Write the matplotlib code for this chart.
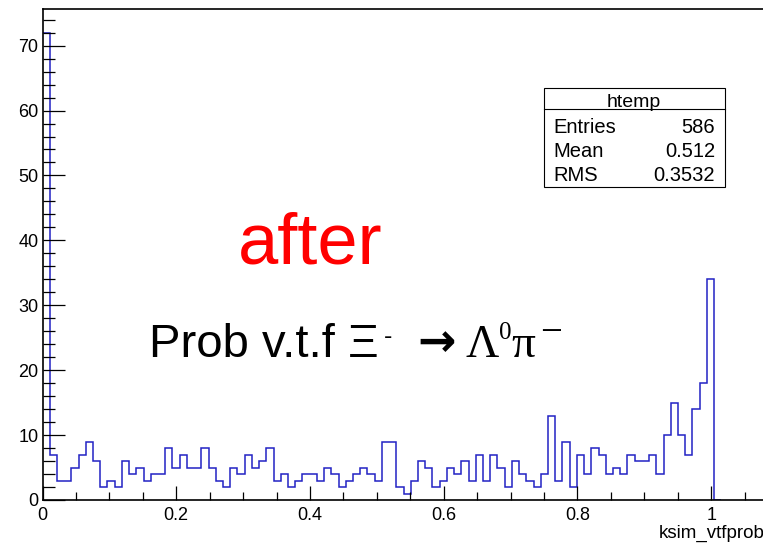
import numpy as np
import matplotlib
matplotlib.use('Agg')
import matplotlib.pyplot as plt
from matplotlib.ticker import MultipleLocator
from matplotlib.patches import Rectangle
from matplotlib.lines import Line2D

plt.rcParams['font.family'] = ['Liberation Sans', 'DejaVu Sans']

W, H = 763, 543

# htemp: 100 bins over [0, 1.08]; bins above 1.0 are empty
n_bins = 100
x_lo, x_hi = 0.0, 1.08
bin_counts = [72, 7, 3, 3, 5, 7, 9, 6, 2, 3,
              2, 6, 4, 5, 3, 4, 4, 8, 5, 7,
              5, 5, 8, 5, 3, 2, 5, 4, 7, 5,
              6, 8, 3, 4, 2, 3, 4, 4, 3, 5,
              4, 2, 3, 4, 5, 4, 3, 9, 9, 2,
              1, 3, 6, 5, 2, 3, 5, 4, 6, 3,
              7, 3, 7, 5, 2, 6, 4, 3, 2, 4,
              13, 3, 9, 2, 7, 4, 8, 7, 4, 5,
              4, 7, 6, 6, 7, 4, 10, 15, 10, 7,
              14, 18, 34]
bin_counts = bin_counts + [0] * (n_bins - len(bin_counts))

x_ticks = [0, 0.2, 0.4, 0.6, 0.8, 1.0]
x_ticklabels = ['0', '0.2', '0.4', '0.6', '0.8', '1']
y_ticks = [0, 10, 20, 30, 40, 50, 60, 70]
y_ticklabels = ['0', '10', '20', '30', '40', '50', '60', '70']

stats_title = 'htemp'
stats_names = ['Entries', 'Mean', 'RMS']
stats_values = ['586', '0.512', '0.3532']


def fx(px):
    return px / W


def fy(py):
    return 1 - py / H


fig = plt.figure(figsize=(W / 100, H / 100), dpi=100)
fig.patch.set_facecolor('white')

ax = fig.add_axes([fx(42.5), fy(500), (764.7 - 42.5) / W, (500 - 9.3) / H])
edges = np.linspace(x_lo, x_hi, n_bins + 1)
counts = np.array(bin_counts)
# outline over the filled range plus one empty bin, so the last edge drops to zero;
# no baseline, so nothing is drawn along the y axis at x=0
n_used = np.nonzero(counts)[0].max() + 2
ax.stairs(counts[:n_used], edges[:n_used + 1], baseline=None,
          color='#2222c4', lw=1.1, zorder=1)
ax.set_xlim(x_lo, x_hi)
ax.set_ylim(0, counts.max() * 1.05)

for s in ax.spines.values():
    s.set_linewidth(1.2)
    s.set_color('black')

ax.set_xticks(x_ticks)
ax.set_xticklabels(x_ticklabels)
ax.set_yticks(y_ticks)
ax.set_yticklabels(y_ticklabels)
ax.xaxis.set_minor_locator(MultipleLocator(0.05))
ax.yaxis.set_minor_locator(MultipleLocator(2))
ax.tick_params(which='both', direction='in', top=False, right=False, width=0.9, colors='black')
ax.tick_params(axis='x', which='major', length=10.3, labelsize=13, pad=5)
ax.tick_params(axis='x', which='minor', length=5.5)
ax.tick_params(axis='y', which='major', length=15.8, labelsize=13, pad=3)
ax.tick_params(axis='y', which='minor', length=8.6)

# axis title at the end of the x axis
fig.text(fx(764.7), fy(538), 'ksim_vtfprob', fontsize=13.5, ha='right', va='baseline')

# stats box
fig.patches.append(Rectangle((fx(544), fy(186.7)), (725 - 544) / W, (186.7 - 88.3) / H,
                             transform=fig.transFigure, facecolor='white',
                             edgecolor='black', lw=0.8, zorder=1))
fig.lines.append(Line2D([fx(544), fx(725)], [fy(109.3), fy(109.3)],
                        transform=fig.transFigure, color='black', lw=0.8, zorder=2))
fig.text(fx(633.3), fy(106.7), stats_title, fontsize=14, ha='center', va='baseline', zorder=3)
for i, (name, val) in enumerate(zip(stats_names, stats_values)):
    yb = 132.7 + i * 24.2
    fig.text(fx(553.3), fy(yb), name, fontsize=14.5, ha='left', va='baseline', zorder=3)
    fig.text(fx(715), fy(yb), val, fontsize=14.5, ha='right', va='baseline', zorder=3)

# annotations
fig.text(fx(238), fy(263.3), 'after', color='red', fontsize=52, ha='left', va='baseline')

fig.text(fx(149), fy(356.7), 'Prob v.t.f \u039e', fontsize=34, ha='left', va='baseline')
fig.text(fx(384), fy(343.5), '-', fontsize=18, ha='left', va='baseline')
fig.text(fx(436.7), fy(356), '\u2192', fontsize=33, fontweight='bold',
         family=['DejaVu Sans'], ha='center', va='baseline')
serif = ['Liberation Serif', 'DejaVu Serif']
fig.text(fx(466), fy(356.7), '\u039b', fontsize=33, family=serif, ha='left', va='baseline')
fig.text(fx(499), fy(339.3), '0', fontsize=18, family=serif, ha='left', va='baseline')
fig.text(fx(511), fy(356.7), '\u03c0', fontsize=34, family=serif, ha='left', va='baseline')
fig.text(fx(540), fy(343), '\u2212', fontsize=28, family=serif, ha='left', va='baseline')

fig.savefig('out.png', dpi=100)
